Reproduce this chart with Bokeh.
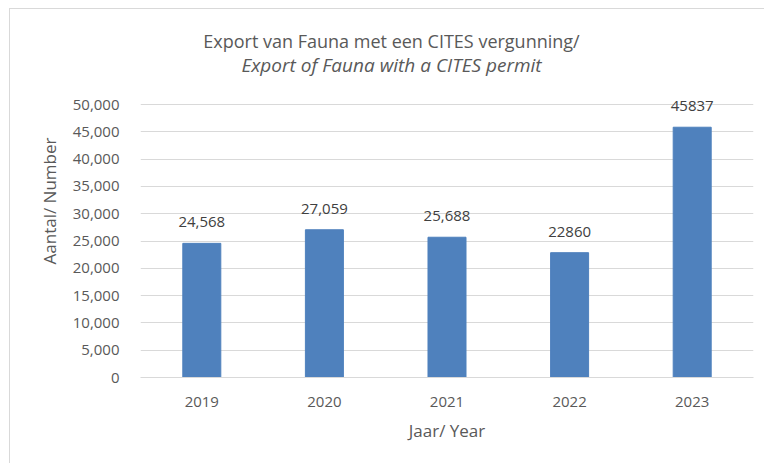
from bokeh.plotting import figure
from bokeh.models import Label, NumeralTickFormatter, ColumnDataSource, FixedTicker
from bokeh.core.properties import value
from bokeh.embed import file_html
from bokeh.resources import INLINE

years = ["2019", "2020", "2021", "2022", "2023"]
counts = [24568, 27059, 25688, 22860, 45837]
labels = ["24,568", "27,059", "25,688", "22860", "45837"]
yticks = [0, 5000, 10000, 15000, 20000, 25000, 30000, 35000, 40000, 45000, 50000]
title_nl = "Export van Fauna met een CITES vergunning/"
title_en = "Export of Fauna with a CITES permit"

FONT = "Open Sans"
GRAY = "#595959"

# frame extends above the 50,000 gridline so the title and value labels are not clipped
FRAME_H = 353          # px from frame top to zero line
AXIS_H = 273           # px from 0 to 50,000
y_end = 50000 * FRAME_H / AXIS_H

src = ColumnDataSource(dict(x=years, top=counts, lab=labels))

p = figure(width=755, height=455, x_range=years, y_range=(0, y_end),
           output_backend="svg", toolbar_location=None,
           min_border_left=130, min_border_right=12, min_border_top=15, min_border_bottom=87)
p.styles = {"margin-left": "9px", "margin-top": "8px",
            "border-left": "1px solid #d9d9d9", "border-top": "1px solid #d9d9d9"}
p.x_range.range_padding = 0

p.add_layout(Label(x=251, y=337, x_units="screen", y_units="screen", text=title_nl,
                   text_align="center", text_baseline="middle", text_font=FONT,
                   text_font_size="18px", text_color=GRAY))
p.add_layout(Label(x=251, y=313, x_units="screen", y_units="screen", text=title_en,
                   text_align="center", text_baseline="middle", text_font=FONT,
                   text_font_size="19px", text_font_style="italic", text_color=GRAY))

p.vbar(x="x", top="top", width=0.31, source=src, color="#4f81bd")
p.text(x="x", y="top", text="lab", source=src, text_align="center", text_baseline="middle",
       y_offset=-21, text_font=value(FONT), text_font_size="15px", text_color="#404040")

p.outline_line_color = None
p.xgrid.grid_line_color = None
p.ygrid.grid_line_color = "#d9d9d9"
p.ygrid.ticker = FixedTicker(ticks=yticks)

p.yaxis.ticker = FixedTicker(ticks=yticks)
p.yaxis.formatter = NumeralTickFormatter(format="0,0")
p.yaxis.axis_line_color = None
p.yaxis.major_tick_line_color = None
p.yaxis.minor_tick_line_color = None
p.yaxis.axis_label = "Aantal/ Number"
p.xaxis.axis_label = "Jaar/ Year"
p.xaxis.axis_line_color = "#d9d9d9"
p.xaxis.major_tick_line_color = None
p.xaxis.minor_tick_line_color = None

for ax in (p.xaxis, p.yaxis):
    ax.major_label_text_font = FONT
    ax.major_label_text_font_size = "15px"
    ax.major_label_text_color = GRAY
    ax.axis_label_text_font = FONT
    ax.axis_label_text_font_size = "17px"
    ax.axis_label_text_color = GRAY
    ax.axis_label_text_font_style = "normal"
p.xaxis.major_label_standoff = 13
p.xaxis.axis_label_standoff = 9
p.yaxis.major_label_standoff = 15
p.yaxis.axis_label_standoff = 9

open("out.html", "w").write(file_html(p, INLINE))
